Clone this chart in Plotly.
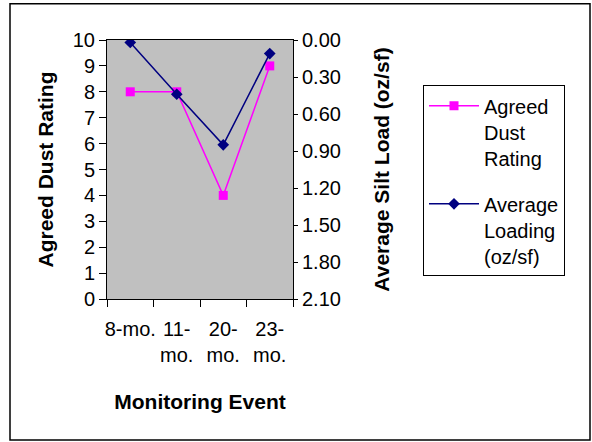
import plotly.graph_objects as go

events = ["8-mo.", "11-<br>mo.", "20-<br>mo.", "23-<br>mo."]
dust_rating = [8, 8, 4, 9]
silt_load = [0.02, 0.44, 0.85, 0.11]
rating_ticks = list(range(0, 11))
load_ticks = [0.0, 0.3, 0.6, 0.9, 1.2, 1.5, 1.8, 2.1]

FONT = "Liberation Sans, Arial, sans-serif"

fig = go.Figure()
fig.add_trace(go.Scatter(
    x=events, y=dust_rating, name="Agreed<br>Dust<br>Rating",
    mode="lines+markers", legendgroup="a",
    line=dict(color="#FF00FF", width=1.5),
    marker=dict(symbol="square", size=9, color="#FF00FF"),
    xaxis="x", yaxis="y"))
fig.add_trace(go.Scatter(
    x=events, y=silt_load, name="Average<br>Loading<br>(oz/sf)",
    mode="lines+markers", legendgroup="b",
    line=dict(color="#000080", width=1.5),
    marker=dict(symbol="diamond", size=9, color="#000080"),
    xaxis="x", yaxis="y2"))

L, R, T, B = 107, 293, 39.5, 299.5
W, H = 592, 442
pw, ph = R - L, B - T

def px(x):
    return (x - L) / pw

def py(y):
    return (B - y) / ph

fig.update_layout(
    width=W, height=H,
    margin=dict(l=L, r=W - R, t=T, b=H - B, pad=0),
    paper_bgcolor="white", plot_bgcolor="#C0C0C0",
    font=dict(family=FONT, size=20, color="black"),
    showlegend=True,
    xaxis=dict(
        type="category", categoryarray=events, range=[-0.5, 3.5],
        tickson="boundaries", ticks="outside", ticklen=7, tickwidth=1,
        tickcolor="black", showline=True, linecolor="black", linewidth=1,
        mirror=True, showgrid=False, zeroline=False, tickangle=0,
        tickfont=dict(size=20), ticklabelstandoff=12,
        title=dict(text="<b>Monitoring Event</b>", font=dict(size=21), standoff=29),
    ),
    xaxis2=dict(
        overlaying="x", anchor="y", range=[-0.5, 3.5],
        tickmode="array", tickvals=[-0.5, 0.5, 1.5, 2.5, 3.5],
        ticks="inside", ticklen=7, tickcolor="black", showticklabels=False,
        showgrid=False, zeroline=False, showline=False,
    ),
    yaxis=dict(
        range=[0, 10], tickmode="array", tickvals=rating_ticks,
        ticks="outside", ticklen=7, tickcolor="black",
        showline=True, linecolor="black", linewidth=1, mirror=True,
        showgrid=False, zeroline=False, tickfont=dict(size=20),
        title=dict(text="<b>Agreed Dust Rating</b>", font=dict(size=21), standoff=13),
    ),
    yaxis2=dict(
        overlaying="y", side="right", range=[2.1, 0],
        tickmode="array", tickvals=load_ticks,
        tickformat=".2f", ticks="outside", ticklen=4, tickcolor="black",
        showline=True, linecolor="black", linewidth=1,
        showgrid=False, zeroline=False, tickfont=dict(size=20),
        title=dict(text="<b>Average Silt Load (oz/sf)</b>", font=dict(size=21), standoff=34),
    ),
    yaxis3=dict(
        overlaying="y", side="right", anchor="x", range=[2.1, 0],
        tickmode="array", tickvals=load_ticks,
        ticks="inside", ticklen=4, tickcolor="black", showticklabels=False,
        showgrid=False, zeroline=False, showline=False,
    ),
    legend=dict(
        x=px(423), y=py(85), xanchor="left", yanchor="top",
        bgcolor="white", bordercolor="black", borderwidth=1,
        font=dict(size=20), valign="top", tracegroupgap=17,
        itemwidth=50,
    ),
    shapes=[dict(type="rect", xref="paper", yref="paper",
                 x0=px(10), x1=px(590), y0=py(441), y1=py(3),
                 line=dict(color="black", width=1.5), layer="below")],
)

fig.write_html("out.html")
